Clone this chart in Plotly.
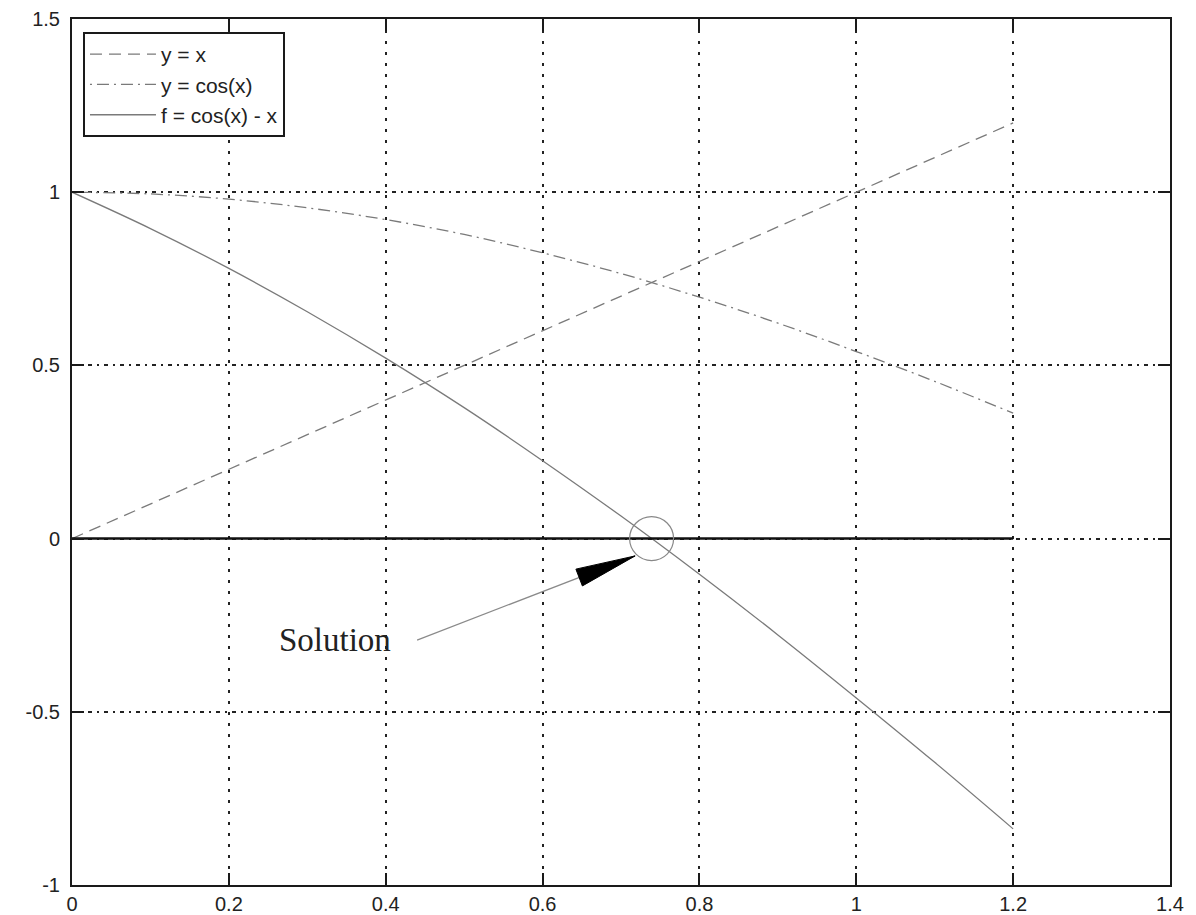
import plotly.graph_objects as go

# ---- data ----
x_vals = [0.0, 0.1, 0.2, 0.3, 0.4, 0.5, 0.6, 0.7, 0.8, 0.9, 1.0, 1.1, 1.2]
y_line = [0.0, 0.1, 0.2, 0.3, 0.4, 0.5, 0.6, 0.7, 0.8, 0.9, 1.0, 1.1, 1.2]
y_cos = [1.000, 0.995, 0.980, 0.955, 0.921, 0.878, 0.825, 0.765, 0.697, 0.622, 0.540, 0.454, 0.362]
y_f = [1.000, 0.895, 0.780, 0.655, 0.521, 0.378, 0.225, 0.065, -0.103, -0.278, -0.460, -0.646, -0.838]
zero_x = [0.0, 1.2]
zero_y = [0.0, 0.0]
root_x = [0.739]
root_y = [0.0]
x_ticks = [0, 0.2, 0.4, 0.6, 0.8, 1.0, 1.2, 1.4]
x_ticktext = ["0", "0.2", "0.4", "0.6", "0.8", "1", "1.2", "1.4"]
y_ticks = [-1, -0.5, 0, 0.5, 1, 1.5]
y_ticktext = ["-1", "-0.5", "0", "0.5", "1", "1.5"]
legend_names = ["y = x", "y = cos(x)", "f = cos(x) - x"]
label_text = "Solution"
label_pos = (0.335, -0.293)
arrow_tail = (0.44, -0.293)
arrow_tip = (0.718, -0.050)

# ---- layout geometry ----
W, H = 1196, 915
ML, MR, MT, MB = 72, 26, 19, 30
X_RANGE = [0, 1.4]
Y_RANGE = [-1, 1.5]
pw = W - ML - MR
ph = H - MT - MB
sx = pw / (X_RANGE[1] - X_RANGE[0])
sy = ph / (Y_RANGE[1] - Y_RANGE[0])

# arrowhead triangle computed from tail/tip in pixel space
tx, ty = arrow_tip[0] * sx, arrow_tip[1] * sy
ax_, ay_ = arrow_tail[0] * sx, arrow_tail[1] * sy
dx, dy = tx - ax_, ty - ay_
L = (dx ** 2 + dy ** 2) ** 0.5
ux, uy = dx / L, dy / L
head_len, head_half = 60, 9
bx, by = tx - ux * head_len, ty - uy * head_len
px_, py_ = -uy, ux
tri_x = [tx / sx, (bx + px_ * head_half) / sx, (bx - px_ * head_half) / sx, tx / sx]
tri_y = [ty / sy, (by + py_ * head_half) / sy, (by - py_ * head_half) / sy, ty / sy]

curve_col = "#7a7a7a"
fig = go.Figure()
fig.add_trace(go.Scatter(x=x_vals, y=y_line, mode="lines", name=legend_names[0],
                         line=dict(color=curve_col, width=1.3, dash="12px,7px")))
fig.add_trace(go.Scatter(x=x_vals, y=y_cos, mode="lines", name=legend_names[1],
                         line=dict(color=curve_col, width=1.3, dash="2px,5px,12px,5px"), line_shape="spline"))
fig.add_trace(go.Scatter(x=x_vals, y=y_f, mode="lines", name=legend_names[2],
                         line=dict(color=curve_col, width=1.3), line_shape="spline"))
fig.add_trace(go.Scatter(x=zero_x, y=zero_y, mode="lines", showlegend=False,
                         line=dict(color="#111111", width=2.5)))
fig.add_trace(go.Scatter(x=root_x, y=root_y, mode="markers", showlegend=False,
                         marker=dict(symbol="circle-open", size=44, color="#888888",
                                     line=dict(width=1.2, color="#888888"))))
fig.add_trace(go.Scatter(x=[arrow_tail[0], arrow_tip[0]], y=[arrow_tail[1], arrow_tip[1]],
                         mode="lines", showlegend=False, line=dict(color="#8a8a8a", width=1.2)))
fig.add_trace(go.Scatter(x=tri_x, y=tri_y, mode="lines", fill="toself", showlegend=False,
                         fillcolor="#000000", line=dict(color="#000000", width=1)))

fig.add_annotation(x=label_pos[0], y=label_pos[1], text=label_text, showarrow=False,
                   font=dict(family="Liberation Serif", size=33, color="#222222"))

axis_common = dict(showline=True, linecolor="#1a1a1a", linewidth=2, mirror="ticks",
                   ticks="inside", ticklen=12, tickwidth=2, tickcolor="#1a1a1a",
                   showgrid=True, gridcolor="#222222", gridwidth=1.5, zeroline=False,
                   automargin=False,
                   tickfont=dict(family="Liberation Sans", size=20, color="#222222"))

fig.update_xaxes(range=X_RANGE, tickvals=x_ticks, ticktext=x_ticktext, griddash="3px,8px",
                 ticklabelstandoff=0, **axis_common)
fig.update_yaxes(range=Y_RANGE, tickvals=y_ticks, ticktext=y_ticktext,
                 griddash="4px,5px,2px,5px", ticklabelstandoff=6, **axis_common)

fig.update_layout(
    width=W, height=H,
    margin=dict(l=ML, r=MR, t=MT, b=MB, autoexpand=False),
    plot_bgcolor="white", paper_bgcolor="white",
    showlegend=True,
    legend=dict(x=0.01, y=0.985, xanchor="left", yanchor="top",
                bgcolor="white", bordercolor="#1a1a1a", borderwidth=2,
                font=dict(family="Liberation Sans", size=21, color="#222222"),
                itemwidth=66, tracegroupgap=0),
)

fig.write_html("out.html")
